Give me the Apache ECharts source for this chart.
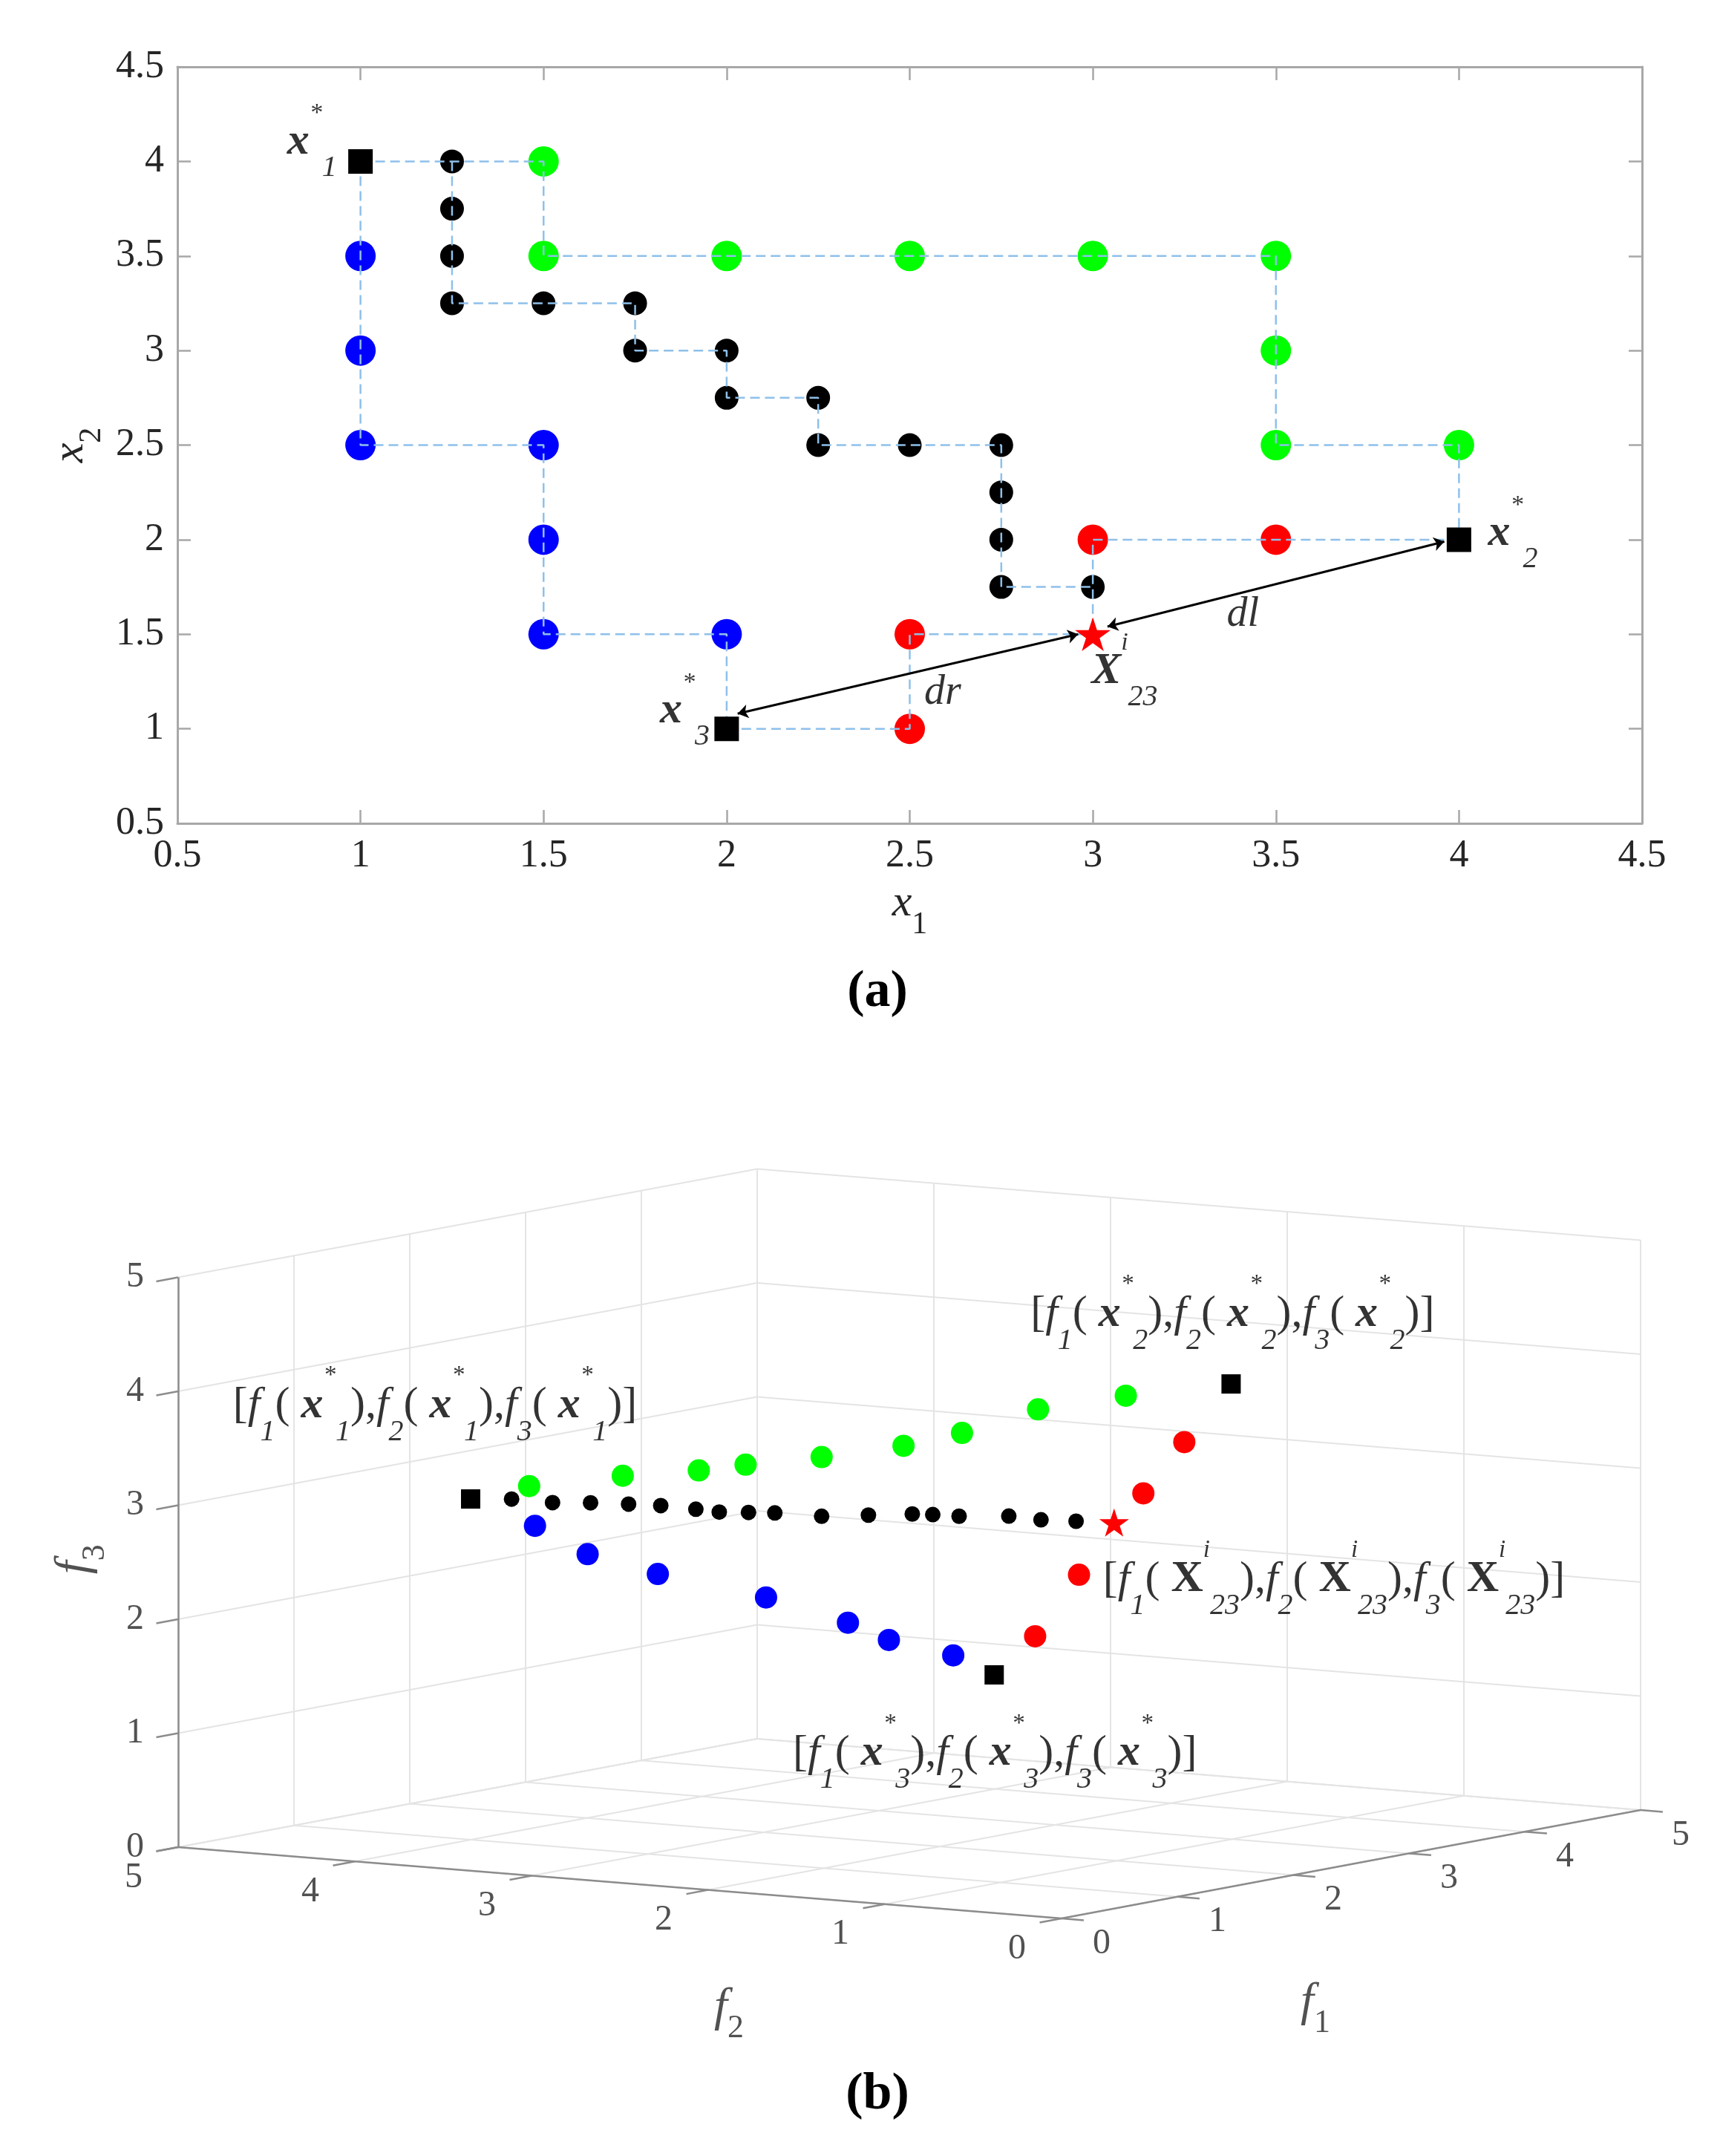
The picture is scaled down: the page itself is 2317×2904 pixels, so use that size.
<!DOCTYPE html>
<html><head><meta charset="utf-8">
<script src="https://cdn.jsdelivr.net/npm/echarts@6/dist/echarts.min.js"></script>
<style>html,body{margin:0;padding:0;background:#fff}#c{width:2317px;height:2904px}</style>
</head><body><div id="c"></div>
<script>
// ================= DATA: panel (a) decision space =================
const xRange = [0.5, 4.5];
const yRange = [0.5, 4.5];
const tickStep = 0.5;
const blackPts = [[1.25,4],[1.25,3.75],[1.25,3.5],[1.25,3.25],[1.5,3.25],[1.75,3.25],[1.75,3],[2,3],[2,2.75],[2.25,2.75],[2.25,2.5],[2.5,2.5],[2.75,2.5],[2.75,2.25],[2.75,2],[2.75,1.75],[3,1.75]];
const bluePts = [[1,3.5],[1,3],[1,2.5],[1.5,2.5],[1.5,2],[1.5,1.5],[2,1.5]];
const greenPts = [[1.5,4],[1.5,3.5],[2,3.5],[2.5,3.5],[3,3.5],[3.5,3.5],[3.5,3],[3.5,2.5],[4,2.5]];
const redPts = [[3,2],[3.5,2],[2.5,1.5],[2.5,1]];
const optPts = [[1,4],[4,2],[2,1]];          // x1*, x2*, x3*
const starPt = [3,1.5];                       // X23^i
const pathBlue  = [[1,4],[1,3.5],[1,3],[1,2.5],[1.5,2.5],[1.5,2],[1.5,1.5],[2,1.5],[2,1]];
const pathGreen = [[1,4],[1.25,4],[1.5,4],[1.5,3.5],[2,3.5],[2.5,3.5],[3,3.5],[3.5,3.5],[3.5,3],[3.5,2.5],[4,2.5],[4,2]];
const pathBlack = [[1.25,4],[1.25,3.75],[1.25,3.5],[1.25,3.25],[1.5,3.25],[1.75,3.25],[1.75,3],[2,3],[2,2.75],[2.25,2.75],[2.25,2.5],[2.5,2.5],[2.75,2.5],[2.75,2.25],[2.75,2],[2.75,1.75],[3,1.75]];
const pathRed1  = [[2,1],[2.5,1],[2.5,1.5],[3,1.5]];
const pathRed2  = [[4,2],[3.5,2],[3,2],[3,1.75],[3,1.5]];
const arrowDr = [[2.03,1.08],[2.96,1.50]];
const arrowDl = [[3.04,1.54],[3.96,1.99]];
const distNames = ['dl','dr'];
const distPos = [[3.41,1.60],[2.59,1.19]];

// ================= DATA: panel (b) objective space (f1, f2, f3) =================
const f1Ticks = [0,1,2,3,4,5];
const f2Ticks = [0,1,2,3,4,5];
const f3Ticks = [0,1,2,3,4,5];
const black3d = [[1.14,3.86,2.98],[1.28,3.72,2.94],[1.41,3.59,2.93],[1.54,3.46,2.91],[1.65,3.35,2.89],[1.77,3.23,2.85],[1.85,3.15,2.82],[1.95,3.05,2.81],[2.04,2.96,2.80],[2.20,2.80,2.76],[2.36,2.64,2.76],[2.51,2.49,2.76],[2.58,2.42,2.75],[2.67,2.33,2.73],[2.84,2.16,2.72],[2.95,2.05,2.68],[3.07,1.93,2.66]];
const green3d = [[1.20,3.80,3.09],[1.52,3.48,3.16],[1.78,3.22,3.19],[1.94,3.06,3.23],[2.20,2.80,3.28],[2.48,2.52,3.36],[2.68,2.32,3.46],[2.94,2.06,3.65],[3.24,1.76,3.75]];
const blue3d = [[1.22,3.78,2.74],[1.40,3.60,2.48],[1.64,3.36,2.29],[2.01,2.99,2.06],[2.29,2.71,1.82],[2.43,2.57,1.66],[2.65,2.35,1.51]];
const red3d = [[3.44,1.56,3.33],[3.30,1.70,2.89],[3.08,1.92,2.19],[2.93,2.07,1.66]];
const opt3d = [[1.00,4.00,2.99],[3.60,1.40,3.83],[2.79,2.21,1.33]];
const star3d = [3.20,1.80,2.64];

// ================= LAYOUT / STYLE =================
const SERIF = "'Liberation Serif','DejaVu Serif',serif";
const TXT = '#262626';
const AX = '#a8a8a8';
const DASH = '#8ec0ea';
const STAR = 'path://M50 0L61.2 34.5H97.6L68.2 55.9L79.4 90.5L50 69.1L20.6 90.5L31.8 55.9L2.4 34.5H38.8Z';
// orthographic projection of the 3-D box onto the page (pixels)
const P0 = [1430, 2584], E1 = [156, -29.2], E2 = [-238, -19.2], E3 = [0, -153.5];
function proj(p){ return [P0[0]+p[0]*E1[0]+p[1]*E2[0]+p[2]*E3[0], P0[1]+p[0]*E1[1]+p[1]*E2[1]+p[2]*E3[1]]; }
const F1MAX = f1Ticks[f1Ticks.length-1], F2MAX = f2Ticks[f2Ticks.length-1], F3MAX = f3Ticks[f3Ticks.length-1];

function textSeries(items, xi, yi, rich, z){
  return { type:'scatter', xAxisIndex:xi, yAxisIndex:yi, symbolSize:1, silent:true, z:z||10,
    itemStyle:{color:'rgba(0,0,0,0)'},
    label:{show:true, position:'inside', color:'#000', fontFamily:SERIF, rich:rich||{}},
    data: items.map(it => ({ value: it.value, label: Object.assign({show:true, position:'inside', formatter: it.text,
      offset: it.offset||[0,0], align: it.align||'center', verticalAlign:'middle'}, it.label||{}) })) };
}
function dashLine(path){
  return { type:'line', xAxisIndex:0, yAxisIndex:0, data:path, symbol:'none', silent:true, z:4,
    lineStyle:{color:DASH, width:2.5, type:[13,7]} };
}
function segSeries(segs, color, width, z){
  return { type:'lines', coordinateSystem:'cartesian2d', xAxisIndex:2, yAxisIndex:2, silent:true, z:z,
    symbol:'none', lineStyle:{color:color, width:width, opacity:1},
    data: segs.map(s => ({coords:s})) };
}

// ---- panel (a) annotation rich styles
const richA = {
  m:{fontFamily:SERIF, fontSize:60, fontStyle:'italic', fontWeight:'bold', color:'#000', lineHeight:110, verticalAlign:'middle'},
  sp:{fontFamily:SERIF, fontSize:34, fontStyle:'italic', color:'#000', lineHeight:44, verticalAlign:'top'},
  sb:{fontFamily:SERIF, fontSize:40, fontStyle:'italic', color:'#000', lineHeight:54, verticalAlign:'bottom'},
  d:{fontFamily:SERIF, fontSize:56, fontStyle:'italic', color:'#000'}
};
// ---- panel (b) annotation rich styles
const richB = {
  n:{fontFamily:SERIF, fontSize:60, color:'#000', lineHeight:112, verticalAlign:'middle'},
  f:{fontFamily:SERIF, fontSize:60, fontStyle:'italic', color:'#000', lineHeight:112, verticalAlign:'middle'},
  x:{fontFamily:SERIF, fontSize:60, fontStyle:'italic', fontWeight:'bold', color:'#000', lineHeight:112, verticalAlign:'middle'},
  X:{fontFamily:SERIF, fontSize:60, fontWeight:'bold', color:'#000', lineHeight:112, verticalAlign:'middle'},
  sp:{fontFamily:SERIF, fontSize:33, fontStyle:'italic', color:'#000', lineHeight:40, verticalAlign:'top'},
  sb:{fontFamily:SERIF, fontSize:40, fontStyle:'italic', color:'#000', lineHeight:54, verticalAlign:'bottom'},
  t:{fontFamily:SERIF, fontSize:48, color:TXT},
  T:{fontFamily:SERIF, fontSize:64, fontStyle:'italic', color:TXT, lineHeight:100, verticalAlign:'middle'},
  Ts:{fontFamily:SERIF, fontSize:44, color:TXT, lineHeight:52, verticalAlign:'bottom'}
};
function fTriple(v, sup, sub){
  const arg = `{${v}|${v === 'X' ? 'X' : 'x'}}{sp|${sup}}{sb|${sub}}`;
  return `{n|[}{f|f}{sb|1}{n|( }${arg}{n|),}{f|f}{sb|2}{n|( }${arg}{n|),}{f|f}{sb|3}{n|( }${arg}{n|)]}`;
}

// ---- 3-D geometry built from ticks
const gridSegs = [];
f1Ticks.forEach(k => { gridSegs.push([proj([k,0,0]),proj([k,F2MAX,0])]); gridSegs.push([proj([k,F2MAX,0]),proj([k,F2MAX,F3MAX])]); });
f2Ticks.forEach(k => { gridSegs.push([proj([0,k,0]),proj([F1MAX,k,0])]); gridSegs.push([proj([F1MAX,k,0]),proj([F1MAX,k,F3MAX])]); });
f3Ticks.forEach(k => { gridSegs.push([proj([0,F2MAX,k]),proj([F1MAX,F2MAX,k])]); gridSegs.push([proj([F1MAX,0,k]),proj([F1MAX,F2MAX,k])]); });
const axisSegs = [[proj([0,F2MAX,0]),proj([0,F2MAX,F3MAX])],[proj([0,F2MAX,0]),proj([0,0,0])],[proj([0,0,0]),proj([F1MAX,0,0])]];
const e1n = Math.hypot(E1[0],E1[1]), e2n = Math.hypot(E2[0],E2[1]);
const uA = [-E1[0]/e1n, -E1[1]/e1n], uB = [-E2[0]/e2n, -E2[1]/e2n], TL = 30;
const tickSegs = [];
f3Ticks.forEach(k => { const p = proj([0,F2MAX,k]); tickSegs.push([p,[p[0]+uA[0]*TL,p[1]+uA[1]*TL]]); });
f2Ticks.forEach(k => { const p = proj([0,k,0]); tickSegs.push([p,[p[0]+uA[0]*TL,p[1]+uA[1]*TL]]); });
f1Ticks.forEach(k => { const p = proj([k,0,0]); tickSegs.push([p,[p[0]+uB[0]*TL,p[1]+uB[1]*TL]]); });
const tickLabels3d = [];
f3Ticks.forEach(k => tickLabels3d.push({value:proj([0,F2MAX,k]), text:`{t|${k}}`, offset:[-58,0]}));
f2Ticks.forEach(k => tickLabels3d.push({value:proj([0,k,0]), text:`{t|${k}}`, offset:[-60,41]}));
f1Ticks.forEach(k => tickLabels3d.push({value:proj([k,0,0]), text:`{t|${k}}`, offset:[54,34]}));
const axisTitles3d = [
  {value:proj([F1MAX/2,0,0]), text:'{T|f}{Ts|1}', offset:[-48,186]},
  {value:proj([0,F2MAX/2,0]), text:'{T|f}{Ts|2}', offset:[147,168]},
  // label offset is applied in the rotated frame
  {value:proj([0,F2MAX,F3MAX/2]), text:'{T|f}{Ts|3}', offset:[4,-140], label:{rotate:90}}
];

function scat3(pts, color, size, symbol, z){
  return { type:'scatter', xAxisIndex:2, yAxisIndex:2, data:pts.map(proj), symbol:symbol||'circle', symbolSize:size,
    symbolKeepAspect:true, silent:true, z:z||6, itemStyle:{color:color, opacity:1} };
}
function scatA(pts, color, size, symbol, z){
  return { type:'scatter', xAxisIndex:0, yAxisIndex:0, data:pts, symbol:symbol||'circle', symbolSize:size,
    symbolKeepAspect:true, silent:true, z:z||3, itemStyle:{color:color, opacity:1} };
}

const axisCommon = {
  type:'value', gridIndex:0, min:xRange[0], max:xRange[1], interval:tickStep,
  axisLine:{show:true, onZero:false, lineStyle:{color:AX, width:3}},
  axisTick:{show:true, inside:true, length:18, lineStyle:{color:AX, width:2.5}},
  splitLine:{show:false}
};
const labelStyle = {show:true, fontFamily:SERIF, fontSize:52, color:TXT, margin:18};

const option = {
  animation:false,
  backgroundColor:'#fff',
  grid:[
    {left:239, top:90, width:1973, height:1019, containLabel:false, outerBoundsMode:'none'},
    {left:0, top:0, width:2317, height:2904, containLabel:false, outerBoundsMode:'none'}
  ],
  xAxis:[
    Object.assign({}, axisCommon, {position:'bottom', axisLabel:labelStyle,
      name:'{x|x}{s|1}', nameLocation:'middle', nameGap:58,
      nameTextStyle:{rich:{x:{fontFamily:SERIF, fontSize:60, fontStyle:'italic', color:TXT, lineHeight:100, verticalAlign:'middle'},
                           s:{fontFamily:SERIF, fontSize:42, color:TXT, lineHeight:50, verticalAlign:'bottom'}}}}),
    Object.assign({}, axisCommon, {position:'top', axisLabel:{show:false}}),
    {type:'value', gridIndex:1, min:0, max:2317, show:false}
  ],
  yAxis:[
    Object.assign({}, axisCommon, {min:yRange[0], max:yRange[1], position:'left', axisLabel:labelStyle,
      name:'{x|x}{s|2}', nameLocation:'middle', nameGap:90, nameRotate:90,
      nameTextStyle:{rich:{x:{fontFamily:SERIF, fontSize:60, fontStyle:'italic', color:TXT, lineHeight:100, verticalAlign:'middle'},
                           s:{fontFamily:SERIF, fontSize:42, color:TXT, lineHeight:50, verticalAlign:'bottom'}}}}),
    Object.assign({}, axisCommon, {min:yRange[0], max:yRange[1], position:'right', axisLabel:{show:false}}),
    {type:'value', gridIndex:1, min:0, max:2904, inverse:true, show:false}
  ],
  graphic:[
    {type:'text', x:1182, y:1337, style:{text:'(a)', fontFamily:SERIF, fontSize:70, fontWeight:'bold', fill:'#000', align:'center', verticalAlign:'middle'}},
    {type:'text', x:1182, y:2822, style:{text:'(b)', fontFamily:SERIF, fontSize:70, fontWeight:'bold', fill:'#000', align:'center', verticalAlign:'middle'}}
  ],
  series:[
    // ---- panel (a)
    scatA(bluePts, '#0000ff', 41),
    scatA(greenPts, '#00ff00', 41),
    scatA(redPts, '#ff0000', 41),
    scatA(blackPts, '#000000', 32),
    dashLine(pathBlue), dashLine(pathGreen), dashLine(pathBlack), dashLine(pathRed1), dashLine(pathRed2),
    scatA(optPts, '#000000', 33, 'rect', 5),
    scatA([starPt], '#ff0000', 48, STAR, 5),
    { type:'lines', coordinateSystem:'cartesian2d', xAxisIndex:0, yAxisIndex:0, silent:true, z:6,
      symbol:['arrow','arrow'], symbolSize:[14,14], lineStyle:{color:'#000', width:3, opacity:1},
      data:[{coords:arrowDr},{coords:arrowDl}] },
    textSeries([
      {value:optPts[0], text:'{m|x}{sp|*}{sb|1}', align:'right', offset:[-32,-26]},
      {value:optPts[1], text:'{m|x}{sp|*}{sb|2}', align:'left', offset:[39,-8]},
      {value:optPts[2], text:'{m|x}{sp|*}{sb|3}', align:'right', offset:[-23,-24]},
      {value:starPt, text:'{m|X}{sp|i}{sb|23}', align:'left', offset:[-2,50]},
      {value:distPos[0], text:`{d|${distNames[0]}}`},
      {value:distPos[1], text:`{d|${distNames[1]}}`}
    ], 0, 0, richA, 8),
    // ---- panel (b)
    segSeries(gridSegs, '#e4e4e4', 2, 1),
    segSeries(axisSegs, '#8c8c8c', 2.5, 2),
    segSeries(tickSegs, '#8c8c8c', 2.5, 2),
    textSeries(tickLabels3d, 2, 2, richB, 3),
    textSeries(axisTitles3d, 2, 2, richB, 3),
    scat3(blue3d, '#0000ff', 30),
    scat3(green3d, '#00ff00', 30),
    scat3(red3d, '#ff0000', 30),
    scat3(black3d, '#000000', 21),
    scat3(opt3d, '#000000', 26, 'rect'),
    scat3([star3d], '#ff0000', 40, STAR),
    textSeries([
      {value:proj(opt3d[0]), text:fTriple('x','*','1'), offset:[-48,-126]},
      {value:proj(opt3d[1]), text:fTriple('x','*','2'), offset:[2,-94]},
      {value:proj(star3d), text:fTriple('X','i','23'), align:'left', offset:[-15,77]},
      {value:proj(opt3d[2]), text:fTriple('x','*','3'), offset:[1,106]}
    ], 2, 2, richB, 9)
  ]
};
const chart = echarts.init(document.getElementById('c'), null, {renderer:'canvas'});
chart.setOption(option);
</script></body></html>
